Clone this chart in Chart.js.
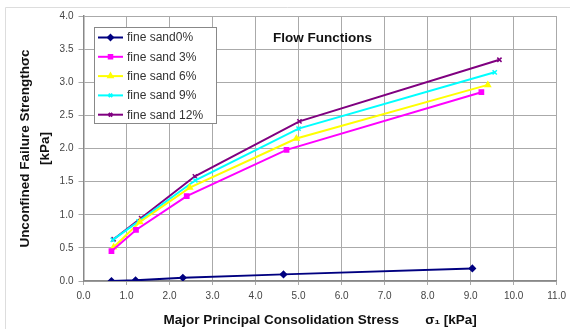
<!DOCTYPE html>
<html>
<head>
<meta charset="utf-8">
<script src="https://cdn.jsdelivr.net/npm/chart.js@4"></script>
<style>
  body { margin: 0; background: #ffffff; }
  #wrap { width: 571px; height: 329px; }
</style>
</head>
<body>
<div id="wrap"><canvas id="flow" width="571" height="329"></canvas></div>
<script>
// Flow function data
const seriesNames = ['fine sand0%', 'fine sand 3%', 'fine sand 6%', 'fine sand 9%', 'fine sand 12%'];
const stress0 = [0.65, 1.21, 2.31, 4.65, 9.04];
const strength0 = [0.0, 0.01, 0.05, 0.10, 0.19];
const stress3 = [0.65, 1.22, 2.40, 4.72, 9.25];
const strength3 = [0.45, 0.77, 1.28, 1.98, 2.85];
const stress6 = [0.70, 1.31, 2.47, 4.95, 9.40];
const strength6 = [0.51, 0.89, 1.41, 2.15, 2.96];
const stress9 = [0.68, 1.28, 2.60, 5.00, 9.56];
const strength9 = [0.62, 0.90, 1.52, 2.30, 3.15];
const stress12 = [0.70, 1.34, 2.59, 5.02, 9.67];
const strength12 = [0.63, 0.95, 1.58, 2.41, 3.34];

const colors = ['#000080', '#FF00FF', '#FFFF00', '#00FFFF', '#800080'];
const markers = ['rectRot', 'rect', 'triangle', 'crossRot', 'crossRot'];
const xs = [stress0, stress3, stress6, stress9, stress12];
const ys = [strength0, strength3, strength6, strength9, strength12];

const FONT = 'Arial, "Liberation Sans", sans-serif';

function makeDataset(i) {
  return {
    label: seriesNames[i],
    data: xs[i].map((x, k) => ({ x: x, y: ys[i][k] })),
    borderColor: colors[i],
    backgroundColor: colors[i],
    borderWidth: 2,
    pointStyle: markers[i],
    pointRadius: 3,
    pointBorderWidth: 1.5,
    showLine: true,
    tension: 0
  };
}

// outer frame + title + legend box drawn on top
const decorations = {
  id: 'decorations',
  beforeDraw(chart) {
    const ctx = chart.ctx;
    ctx.save();
    ctx.strokeStyle = '#dddddd';
    ctx.lineWidth = 1;
    ctx.beginPath();
    ctx.moveTo(5.5, 329);
    ctx.lineTo(5.5, 7.5);
    ctx.lineTo(570, 7.5);
    ctx.stroke();
    ctx.restore();
  },
  afterDatasetsDraw(chart) {
    const ctx = chart.ctx;
    ctx.save();
    // title
    ctx.font = 'bold 13.5px ' + FONT;
    ctx.fillStyle = '#111111';
    ctx.textAlign = 'left';
    ctx.textBaseline = 'middle';
    ctx.fillText('Flow Functions', 273, 38);

    // legend
    ctx.fillStyle = '#ffffff';
    ctx.fillRect(94, 27, 122, 96);
    ctx.strokeStyle = '#888888';
    ctx.lineWidth = 1;
    ctx.strokeRect(94.5, 27.5, 122, 96);
    chart.data.datasets.forEach((ds, i) => {
      const y = 37.5 + i * 19.3;
      ctx.strokeStyle = ds.borderColor;
      ctx.lineWidth = 2;
      ctx.beginPath();
      ctx.moveTo(98, y);
      ctx.lineTo(123, y);
      ctx.stroke();
      Chart.helpers.drawPoint(ctx, {
        pointStyle: ds.pointStyle, radius: 2.5, rotation: 0, borderWidth: 1.5
      }, 110.5, y);
      ctx.fillStyle = ds.borderColor;
      ctx.fill();
      ctx.fillStyle = '#333333';
      ctx.font = '12px ' + FONT;
      ctx.textAlign = 'left';
      ctx.fillText(ds.label, 127, y + 0.5);
    });
    ctx.restore();
  }
};

function createFlowChart() {
  const ctx = document.getElementById('flow').getContext('2d');
  new Chart(ctx, {
    type: 'scatter',
    data: { datasets: [0, 1, 2, 3, 4].map(makeDataset) },
    options: {
      responsive: false,
      animation: false,
      layout: { padding: { top: 16, right: 10, left: 0, bottom: 0 } },
      plugins: {
        legend: { display: false },
        tooltip: { enabled: false }
      },
      scales: {
        x: {
          type: 'linear',
          min: 0,
          max: 11,
          afterFit: (scale) => { scale.height = 48; },
          ticks: {
            stepSize: 1,
            color: '#444444',
            font: { size: 10, family: FONT },
            padding: 5,
            callback: (v) => v.toFixed(1)
          },
          grid: { color: '#aaaaaa', lineWidth: 1, tickLength: 4 },
          border: { color: '#888888', width: 1.5 },
          title: {
            display: true,
            text: 'Major Principal Consolidation Stress       σ\u2081 [kPa]',
            color: '#111111',
            font: { size: 13.5, weight: 'bold', family: FONT, lineHeight: 1.2 },
            padding: { top: 0, bottom: 1 }
          }
        },
        y: {
          min: 0,
          max: 4,
          afterFit: (scale) => { scale.width = 83.5; },
          ticks: {
            stepSize: 0.5,
            color: '#444444',
            font: { size: 10, family: FONT },
            padding: 5,
            callback: (v) => v.toFixed(1)
          },
          grid: { color: '#aaaaaa', lineWidth: 1, tickLength: 5 },
          border: { color: '#888888', width: 1.5 },
          title: {
            display: true,
            text: ['Unconfined Failure Strengthσc', '[kPa]'],
            color: '#111111',
            font: { size: 13.5, weight: 'bold', family: FONT, lineHeight: 1.48 },
            padding: { top: 15, bottom: 0 }
          }
        }
      }
    },
    plugins: [decorations]
  });
}

document.addEventListener('DOMContentLoaded', () => {
  createFlowChart();
});
</script>
</body>
</html>
